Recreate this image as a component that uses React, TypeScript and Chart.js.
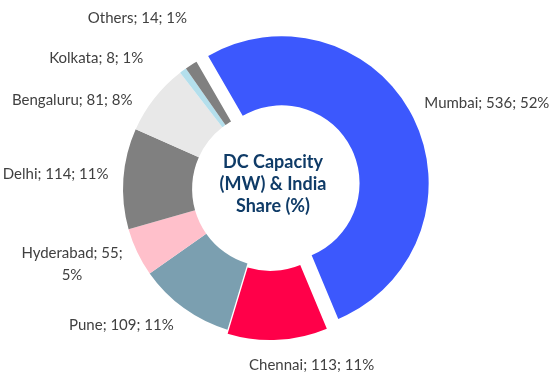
import React, { useEffect, useRef } from 'react';
import { Chart, registerables } from 'chart.js';

Chart.register(...registerables);

const categories = ['Mumbai', 'Chennai', 'Pune', 'Hyderabad', 'Delhi', 'Bengaluru', 'Kolkata', 'Others'];
const capacityMW = [536, 113, 109, 55, 114, 81, 8, 14];
const sliceColors = ['#3C58FD', '#FF0049', '#7B9FB0', '#FFC0CB', '#808080', '#E8E8E8', '#B4DFEC', '#808080'];
const sliceExplode = [13, 4, 0, 0, 0, 0, 0, 0];
const centerTitle = ['DC Capacity', '(MW) & India', 'Share (%)'];

// label layout tweaks (like manual placement in the source chart)
const labelNudge: Record<string, [number, number]> = {
  Mumbai: [4, -4],
  Chennai: [30, -2],
  Pune: [-23, -5],
  Hyderabad: [-6, -5],
  Delhi: [0, -4],
  Bengaluru: [-23, 17],
  Kolkata: [-50, 8],
  Others: [-19, -26],
};
const labelWrap: Record<string, number> = { Hyderabad: 105 };

const wrapText = (ctx: CanvasRenderingContext2D, text: string, maxW?: number) => {
  if (!maxW) return [text];
  const words = text.split(' ');
  const lines: string[] = [];
  let cur = '';
  for (const w of words) {
    const t = cur ? cur + ' ' + w : w;
    if (ctx.measureText(t).width > maxW && cur) {
      lines.push(cur);
      cur = w;
    } else cur = t;
  }
  if (cur) lines.push(cur);
  return lines;
};

const explodePlugin = {
  id: 'explodeSlices',
  beforeDatasetDraw(chart: any, args: any) {
    const ctx: CanvasRenderingContext2D = chart.ctx;
    args.meta.data.forEach((arc: any, i: number) => {
      const shift = sliceExplode[i] || 0;
      const mid = (arc.startAngle + arc.endAngle) / 2;
      ctx.save();
      ctx.translate(Math.cos(mid) * shift, Math.sin(mid) * shift);
      arc.draw(ctx);
      ctx.restore();
    });
    return false;
  },
};

const labelPlugin = {
  id: 'outsideLabels',
  afterDraw(chart: any) {
    const ctx: CanvasRenderingContext2D = chart.ctx;
    const meta = chart.getDatasetMeta(0);
    const data = chart.data.datasets[0].data as number[];
    const labels = chart.data.labels as string[];
    const total = data.reduce((a, b) => a + b, 0);
    const gap = 15;
    const lineH = 22;
    ctx.save();
    ctx.font = '15px Lato';
    ctx.fillStyle = '#404040';
    ctx.textAlign = 'center';
    ctx.textBaseline = 'middle';
    let cxC = 0, cyC = 0;
    meta.data.forEach((arc: any, i: number) => {
      const p = arc.getProps(['x', 'y', 'startAngle', 'endAngle', 'outerRadius'], true);
      cxC = p.x; cyC = p.y;
      const mid = (p.startAngle + p.endAngle) / 2;
      const off = sliceExplode[i] || 0;
      const ux = Math.cos(mid), uy = Math.sin(mid);
      const r = p.outerRadius + off + gap;
      const ax = p.x + ux * r, ay = p.y + uy * r;
      const name = labels[i];
      const pct = Math.round((data[i] / total) * 100);
      const text = `${name}; ${data[i]}; ${pct}%`;
      const lines = wrapText(ctx, text, labelWrap[name]);
      const w = Math.max(...lines.map((l) => ctx.measureText(l).width));
      const h = lines.length * lineH;
      const nd = labelNudge[name] || [0, 0];
      const cx = ax + (ux * w) / 2 + nd[0];
      const cy = ay + (uy * h) / 2 + nd[1];
      lines.forEach((ln, k) => ctx.fillText(ln, cx, cy - h / 2 + lineH * (k + 0.5) + 1));
    });
    ctx.font = 'bold 18px Lato';
    ctx.fillStyle = '#0F3B67';
    const n = centerTitle.length;
    centerTitle.forEach((ln, k) => ctx.fillText(ln, cxC + 3, cyC - 5 + (k - (n - 1) / 2) * 22));
    ctx.restore();
  },
};

export default function App() {
  const ref = useRef<HTMLCanvasElement>(null);
  useEffect(() => {
    document.body.style.margin = '0';
    const chart = new Chart(ref.current!, {
      type: 'doughnut',
      data: {
        labels: categories,
        datasets: [
          {
            data: capacityMW,
            backgroundColor: sliceColors,
            borderWidth: 0,
          },
        ],
      },
      options: {
        responsive: false,
        maintainAspectRatio: false,
        animation: false,
        devicePixelRatio: 1,
        rotation: -30,
        radius: 147,
        cutout: '53%',
        layout: { padding: { left: 0, right: 13, top: 0, bottom: 5 } },
        plugins: { legend: { display: false }, tooltip: { enabled: false } },
      },
      plugins: [explodePlugin, labelPlugin],
    });
    return () => chart.destroy();
  }, []);
  return (
    <div style={{ width: 553, height: 383, background: '#fff' }}>
      <canvas ref={ref} width={553} height={383} />
    </div>
  );
}
